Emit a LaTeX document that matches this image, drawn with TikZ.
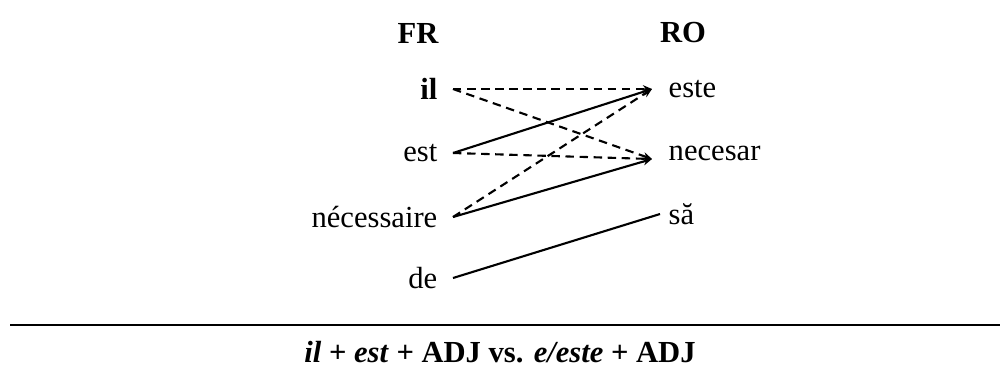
\documentclass[tikz,border=0pt]{standalone}
\usepackage{fontspec}
\setmainfont{Liberation Serif}
\usepackage{tikz}
\usetikzlibrary{arrows.meta, positioning}

\begin{document}
\begin{tikzpicture}[
  x=0.01cm, y=0.01cm,
  every node/.style={font=\fontsize{8.7}{10}\selectfont, inner ysep=0pt},
  head/.style={font=\fontsize{8.7}{10}\selectfont\bfseries},
  fr/.style={anchor=east, inner xsep=0.15cm},
  ro/.style={anchor=west, inner xsep=0.16cm},
  lnk/.style={line width=0.6pt},
  sure/.style={lnk},
  guess/.style={lnk, dash pattern=on 2.4pt off 1.6pt},
  ar/.style={-{Stealth[length=2.6pt,width=2.2pt]}}
]
  \useasboundingbox (0,0) rectangle (1000,-381);

  \node[head] (fr) at (418,-33) {FR};
  \node[head] (ro) at (683,-33) {RO};

  \node[fr] (il)   at (453,-89)  {\textbf{il}};
  \node[fr] (est)  at (453,-153) {est};
  \node[fr] (nec)  at (453,-217) {nécessaire};
  \node[fr] (de)   at (453,-278) {de};

  \node[ro] (este)    at (652,-89)  {este};
  \node[ro] (necesar) at (652,-153) {necesar};
  \node[ro] (sa)      at (652,-214) {să};
  \coordinate (necin) at ([yshift=-0.06cm]necesar.west);

  \draw[guess, ar] (il.east)  -- (este.west);
  \draw[guess, ar] (il.east)  -- (necin);
  \draw[guess, ar] (est.east) -- (necin);
  \draw[guess, ar] (nec.east) -- (este.west);
  \draw[sure, ar]  (est.east) -- (este.west);
  \draw[sure, ar]  (nec.east) -- (necin);
  \draw[sure]      (de.east)  -- ([xshift=0.08cm]sa.west);

  \coordinate (rl) at (10,-325);
  \coordinate (rr) at (1000,-325);
  \draw[line width=0.6pt] (rl) -- (rr);
  \node[font=\fontsize{8.7}{10}\selectfont\bfseries] (cap) at (500,-352)
    {\textit{il} + \textit{est} + ADJ vs. \textit{e/este} + ADJ};
\end{tikzpicture}
\end{document}
